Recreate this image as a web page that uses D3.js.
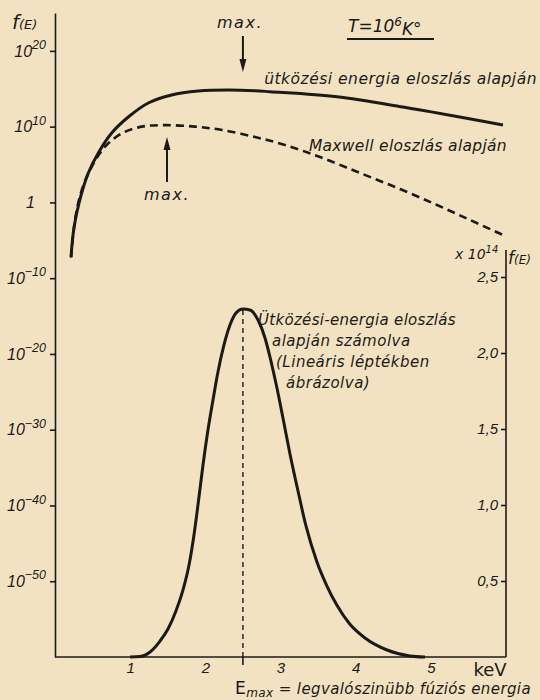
<!DOCTYPE html>
<html>
<head>
<meta charset="utf-8">
<script src="https://cdn.jsdelivr.net/npm/d3@7"></script>
<style>
  body { margin: 0; background: #f3e2c2; }
  svg { display: block; font-family: "DejaVu Sans", sans-serif; font-style: italic; }
  .axis path, .axis line { stroke: #1c1a17; stroke-width: 1.6; }
  .axis text { fill: #1c1a17; }
</style>
</head>
<body>
<div id="chart"></div>
<script>
var width = 540, height = 700;

// energy (keV) axis
var energyTicks = [1, 2, 3, 4, 5];
var eMax = 2.5;

// log axis (left) and linear axis (right, x 10^14)
var logTicks = [1e20, 1e10, 1, 1e-10, 1e-20, 1e-30, 1e-40, 1e-50];
var linTicks = [0.5, 1.0, 1.5, 2.0, 2.5];
var linTickLabels = ["0,5", "1,0", "1,5", "2,0", "2,5"];

// collision energy distribution, log10 f(E)
var collE   = [0.213, 0.243, 0.289, 0.355, 0.443, 0.576, 0.754, 0.975, 1.241, 1.552, 1.906, 2.305, 2.661, 2.860, 3.748, 4.630, 5.960];
var collExp = [-7.2, -4.04, -1.4, 1.24, 3.88, 6.52, 9.16, 11.27, 13.12, 14.18, 14.70, 14.84, 14.74, 14.61, 13.95, 12.59, 10.22];

// Maxwell distribution, log10 f(E)
var maxwE   = [0.213, 0.266, 0.355, 0.488, 0.665, 0.887, 1.153, 1.463, 1.862, 2.222, 2.661, 3.060, 3.525, 4.058, 4.590, 5.082, 5.521, 5.960];
var maxwExp = [-7.3, -2.3, 1.6, 4.7, 7.35, 9.1, 10.0, 10.2, 10.0, 9.56, 8.63, 7.58, 5.99, 3.88, 1.77, -0.34, -2.32, -4.30];

// collision energy distribution on linear scale (x 10^14)
var linE = [0.998, 1.131, 1.264, 1.397, 1.503, 1.609, 1.703, 1.783, 1.849, 1.902, 1.969, 2.035, 2.102, 2.168, 2.248, 2.328, 2.408, 2.501,
            2.594, 2.701, 2.794, 2.873, 2.953, 3.033, 3.126, 3.233, 3.339, 3.485, 3.618, 3.751, 3.924, 4.124, 4.417, 4.723, 4.922];
var linF = [0, 0.003, 0.033, 0.105, 0.184, 0.303, 0.441, 0.605, 0.803, 1.000, 1.263, 1.493, 1.691, 1.875, 2.053, 2.184, 2.263, 2.289,
            2.283, 2.217, 2.099, 1.947, 1.770, 1.572, 1.336, 1.092, 0.862, 0.625, 0.467, 0.340, 0.215, 0.125, 0.046, 0.007, 0];

var ink = "#1c1a17";

var svg = d3.select("#chart").append("svg")
    .attr("width", width).attr("height", height);

var x = d3.scaleLinear().domain([0, 6]).range([55, 506]);
var yLog = d3.scaleLog().domain([1e-60, 1e25]).range([657, 13]);
var yLin = d3.scaleLinear().domain([0, 2.5]).range([657, 277]);

// left log axis
var gLeft = svg.append("g").attr("class", "axis")
    .attr("transform", "translate(" + x(0) + ",0)")
    .call(d3.axisLeft(yLog).tickValues(logTicks).tickSize(5).tickSizeOuter(0).tickPadding(4));
gLeft.selectAll(".tick text").each(function (d) {
    var e = Math.round(Math.log10(d));
    var t = d3.select(this).text(null).style("font-size", "16px");
    if (e === 0) {
        t.attr("dx", "-11").text("1");
        return;
    }
    t.append("tspan").text("10");
    t.append("tspan").attr("dy", "-0.6em").style("font-size", "12.5px")
        .text(e > 0 ? e : "\u2212" + (-e));
});

// right linear axis
var gRight = svg.append("g").attr("class", "axis")
    .attr("transform", "translate(" + x(6) + ",0)")
    .call(d3.axisLeft(yLin).tickValues(linTicks).tickSize(5).tickSizeOuter(0).tickPadding(3)
        .tickFormat(function (d, i) { return linTickLabels[i]; }));
gRight.selectAll(".tick text").style("font-size", "15px");
gRight.select(".domain").remove();
svg.append("line")
    .attr("x1", x(6)).attr("x2", x(6))
    .attr("y1", yLin(0)).attr("y2", 250)
    .attr("stroke", ink).attr("stroke-width", 1.6);

// bottom energy axis
var gBottom = svg.append("g").attr("class", "axis")
    .attr("transform", "translate(0," + yLin(0) + ")")
    .call(d3.axisBottom(x).tickValues(energyTicks).tickSize(0).tickSizeOuter(0).tickPadding(5)
        .tickFormat(d3.format("d")));
gBottom.selectAll(".tick text").style("font-size", "15px");
gBottom.select(".domain").attr("d", "M" + x(0) + ",0H" + x(6));

// E max tick + dashed line
svg.append("line")
    .attr("x1", x(eMax)).attr("x2", x(eMax))
    .attr("y1", yLin(0)).attr("y2", yLin(0) + 8)
    .attr("stroke", ink).attr("stroke-width", 1.6);

var peakF = d3.max(linF);
svg.append("line")
    .attr("x1", x(eMax)).attr("x2", x(eMax))
    .attr("y1", yLin(0)).attr("y2", yLin(peakF))
    .attr("stroke", ink).attr("stroke-width", 1.4)
    .attr("stroke-dasharray", "5,4");

// curves
var logLine = d3.line()
    .curve(d3.curveCatmullRom.alpha(0.5))
    .x(function (d) { return x(d[0]); })
    .y(function (d) { return yLog(Math.pow(10, d[1])); });

var linLine = d3.line()
    .curve(d3.curveMonotoneX)
    .x(function (d) { return x(d[0]); })
    .y(function (d) { return yLin(d[1]); });

svg.append("path")
    .datum(d3.zip(maxwE, maxwExp))
    .attr("d", logLine)
    .attr("fill", "none").attr("stroke", ink).attr("stroke-width", 2.6)
    .attr("stroke-dasharray", "8,5");

svg.append("path")
    .datum(d3.zip(collE, collExp))
    .attr("d", logLine)
    .attr("fill", "none").attr("stroke", ink).attr("stroke-width", 3);

svg.append("path")
    .datum(d3.zip(linE, linF))
    .attr("d", linLine)
    .attr("fill", "none").attr("stroke", ink).attr("stroke-width", 3);

// arrows
function arrow(xp, yFrom, yTo) {
    var dir = yTo > yFrom ? 1 : -1;
    svg.append("line")
        .attr("x1", xp).attr("x2", xp)
        .attr("y1", yFrom).attr("y2", yTo - dir * 10)
        .attr("stroke", ink).attr("stroke-width", 2);
    svg.append("path")
        .attr("d", "M" + (xp - 3.5) + "," + (yTo - dir * 13) + "L" + xp + "," + yTo + "L" + (xp + 3.5) + "," + (yTo - dir * 13) + "Z")
        .attr("fill", ink);
}
arrow(x(eMax), 36, 72);
arrow(x(1.49), 182, 137);

// texts
function label(txt, xp, yp, size, anchor, spacing) {
    return svg.append("text")
        .attr("x", xp).attr("y", yp)
        .style("font-size", size + "px")
        .style("letter-spacing", (spacing || 0) + "px")
        .attr("text-anchor", anchor || "start")
        .attr("fill", ink)
        .text(txt);
}

var fe = svg.append("text").attr("x", 12).attr("y", 29).attr("fill", ink);
fe.append("tspan").style("font-size", "20px").text("f");
fe.append("tspan").style("font-size", "13px").text("(E)");

var title = svg.append("text").attr("x", 348).attr("y", 32).attr("fill", ink).style("font-size", "17px");
title.append("tspan").text("T=10");
title.append("tspan").attr("dy", "-0.5em").style("font-size", "12px").text("6");
title.append("tspan").attr("dy", "0.5em").text("K°");
svg.append("line")
    .attr("x1", 347).attr("x2", 434).attr("y1", 39).attr("y2", 39)
    .attr("stroke", ink).attr("stroke-width", 1.8);

label("max.", 240, 28, 16, "middle", 1.5);
label("max.", 167, 200, 16, "middle", 1.5);
label("ütközési energia eloszlás alapján", 537, 84, 15.5, "end", 0.5);
label("Maxwell eloszlás alapján", 507, 151, 15.5, "end", 0.3);

var x14 = svg.append("text").attr("x", 455).attr("y", 259).attr("fill", ink).style("font-size", "14px");
x14.append("tspan").text("x 10");
x14.append("tspan").attr("dy", "-0.6em").style("font-size", "10px").text("14");
var fe2 = svg.append("text").attr("x", 508).attr("y", 264).attr("fill", ink);
fe2.append("tspan").style("font-size", "17px").text("f");
fe2.append("tspan").style("font-size", "12px").text("(E)");

label("Ütközési-energia eloszlás", 258, 325, 15, "start", 0.3);
label("alapján számolva", 272, 346, 15, "start", 0.5);
label("(Lineáris léptékben", 276, 367, 15, "start", 0.5);
label("ábrázolva)", 286, 388, 15, "start", 0.5);

label("keV", 490, 676, 18, "middle").style("font-style", "normal");

var em = svg.append("text").attr("x", 235).attr("y", 694).attr("fill", ink).style("letter-spacing", "0.4px");
em.append("tspan").style("font-size", "17px").style("font-style", "normal").text("E");
em.append("tspan").style("font-size", "12px").attr("dy", "3").text("max");
em.append("tspan").style("font-size", "15px").attr("dy", "-3").text(" = legvalószinübb fúziós energia");
</script>
</body>
</html>
